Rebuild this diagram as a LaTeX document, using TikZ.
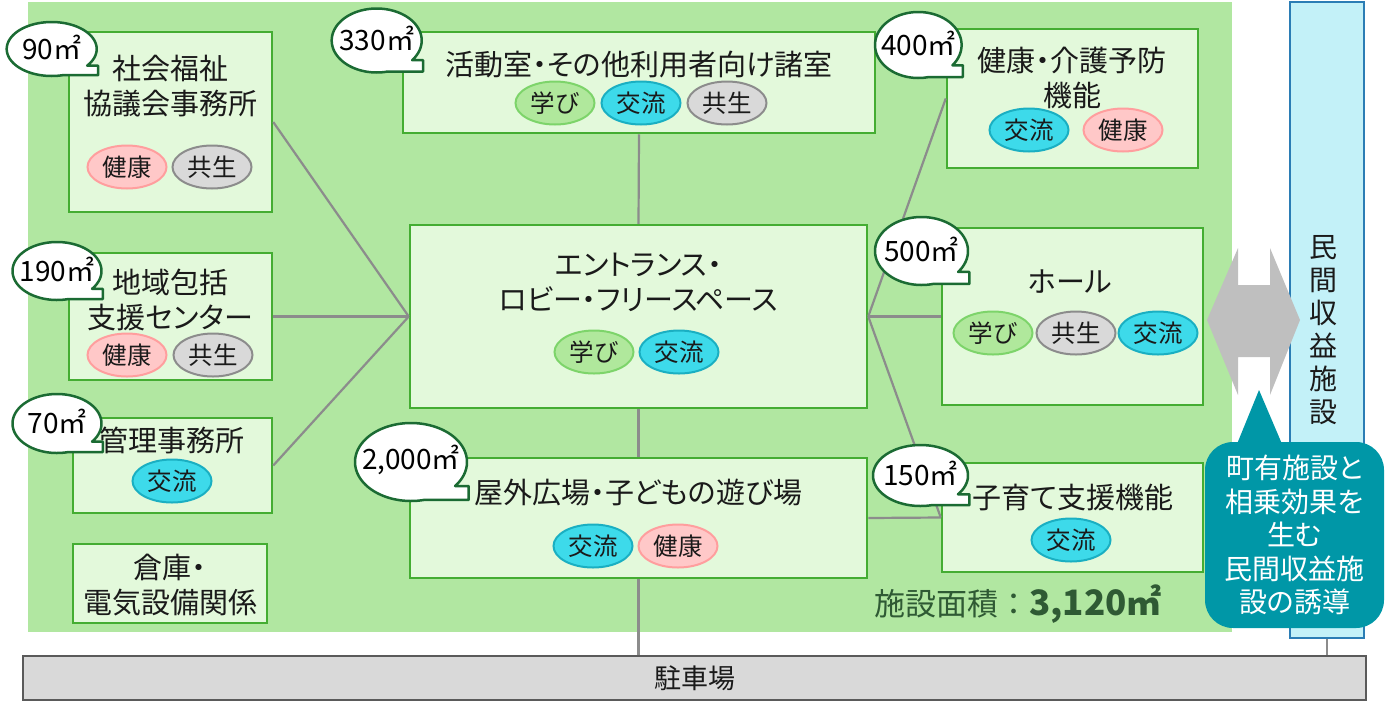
\documentclass[tikz,border=0pt]{standalone}
\usepackage{fontspec}
\setmainfont{Noto Sans CJK JP}[RawFeature=+palt]
\newfontfamily\plainjp{Noto Sans CJK JP}
\usetikzlibrary{shapes.geometric}
\definecolor{bggreen}{HTML}{B1E7A1}
\definecolor{boxfill}{HTML}{E3F9DB}
\definecolor{boxline}{HTML}{44AD32}
\definecolor{bubbleline}{HTML}{1B6B33}
\definecolor{conn}{HTML}{8C8C8C}
\definecolor{manabiF}{HTML}{B0E89C}
\definecolor{manabiD}{HTML}{7DD46A}
\definecolor{kouryuF}{HTML}{3DDAEA}
\definecolor{kouryuD}{HTML}{1AAFC2}
\definecolor{kyouseiF}{HTML}{D9D9D9}
\definecolor{kyouseiD}{HTML}{8C8C8C}
\definecolor{kenkouF}{HTML}{FFC8C8}
\definecolor{kenkouD}{HTML}{FF9E9E}
\definecolor{tealc}{HTML}{0097A7}
\definecolor{minkanF}{HTML}{C3F1F8}
\definecolor{minkanD}{HTML}{2B7DB5}
\definecolor{arrowgray}{HTML}{BFBFBF}
\definecolor{parkF}{HTML}{D9D9D9}
\definecolor{parkD}{HTML}{5A5A5A}
\definecolor{areatext}{HTML}{2F5A34}
\definecolor{ink}{HTML}{1A1A1A}
\newcommand\areabubble[6]{%
  \draw[bubble] plot[domain=76:398, samples=90, variable=\t] ({#2+#4*cos(\t)},{#3+#5*sin(\t)})
     -- ({#2+1.03*#4},{#3+#5*sin(38)}) -- ({#2+1.03*#4},{#3+#5*sin(76)}) -- cycle;
  \node[bubbletext] (#1) at (#2,{#3-2}) {#6};
}
\begin{document}
\begin{tikzpicture}[x=1pt,y=-1pt,
  facility/.style={rectangle, draw=boxline, fill=boxfill, line width=2.5pt, inner sep=0pt},
  title/.style={font=\fontsize{29}{35}\selectfont, align=center, text=ink, inner sep=0pt},
  tagpill/.style={ellipse, minimum width=79pt, minimum height=43pt, line width=2pt, inner sep=0pt, text=ink, font=\fontsize{24.5}{24.5}\selectfont},
  manabi/.style={tagpill, fill=manabiF, draw=manabiD},
  kouryu/.style={tagpill, fill=kouryuF, draw=kouryuD},
  kyousei/.style={tagpill, fill=kyouseiF, draw=kyouseiD},
  kenkou/.style={tagpill, fill=kenkouF, draw=kenkouD},
  bubble/.style={draw=bubbleline, fill=white, line width=2.5pt, line join=round},
  bubbletext/.style={inner sep=0pt, text=black, font=\fontsize{28}{28}\selectfont},
  link/.style={draw=conn, line width=2.2pt}
]
\useasboundingbox (0,0) rectangle (1386,702);
% background area
\fill[bggreen] (28,2) rectangle (1232,632);

% private facility box
\node[rectangle, draw=minkanD, fill=minkanF, line width=2pt, minimum width=74pt, minimum height=636pt, inner sep=0pt] (minkan) at (1327,320) {};
\node[inner sep=0pt, align=center, text=ink, font=\fontsize{28}{33}\selectfont] (minkantxt) at (1323,330) {民\\間\\収\\益\\施\\設};

% parking
\node[rectangle, draw=parkD, fill=parkF, line width=2.5pt, minimum width=1343pt, minimum height=44pt, inner sep=0pt, text=ink, font=\fontsize{27}{27}\selectfont] (park) at (694.5,678) {駐車場};

% facility boxes
\node[facility, minimum width=203pt, minimum height=180pt] (shakai) at (170.5,122) {};
\node[facility, minimum width=203pt, minimum height=127pt] (chiiki) at (170.5,316.5) {};
\node[facility, minimum width=199pt, minimum height=95pt] (kanri) at (172.5,465.5) {};
\node[facility, minimum width=194pt, minimum height=79pt] (souko) at (170,583.5) {};
\node[facility, minimum width=472pt, minimum height=101pt] (katsudo) at (639,82.5) {};
\node[facility, minimum width=251pt, minimum height=139pt] (kenko) at (1072.5,98.5) {};
\node[facility, minimum width=457pt, minimum height=183pt] (center) at (638.5,316.5) {};
\node[facility, minimum width=261pt, minimum height=177pt] (hall) at (1072.5,316.5) {};
\node[facility, minimum width=457pt, minimum height=120pt] (okugai) at (638.5,518) {};
\node[facility, minimum width=261pt, minimum height=109pt] (kosodate) at (1072.5,517.5) {};

% connectors
\path[link] (center.west) -- (shakai.east);
\path[link] (center.west) -- (chiiki.east);
\path[link] (center.west) -- (kanri.east);
\path[link] (center.north) -- (katsudo.south);
\path[link] (center.south) -- (okugai.north);
\path[link] (center.east) -- (kenko.west);
\path[link] (center.east) -- (hall.west);
\path[link] (center.east) -- (kosodate.west);
\path[link] (okugai.east) -- (kosodate.west);
\path[link] (okugai.south) -- (okugai.south |- park.north);
\path[link] (minkan.south) -- (minkan.south |- park.north);

% titles
\node[title] (t-shakai) at (170.5,86) {社会福祉\\協議会事務所};
\node[title] (t-chiiki) at (170.5,299.5) {地域包括\\支援センター};
\node[title] (t-kanri) at (172,440) {管理事務所};
\node[title] (t-souko) at (170,585) {倉庫・\\電気設備関係};
\node[title] (t-katsudo) at (639,65) {活動室・その他利用者向け諸室};
\node[title] (t-kenko) at (1072,77.5) {健康・介護予防\\機能};
\node[title] (t-center) at (638.5,282.5) {エントランス・\\ロビー・フリースペース};
\node[title] (t-hall) at (1070,282) {ホール};
\node[title] (t-okugai) at (638.5,492) {屋外広場・子どもの遊び場};
\node[title] (t-kosodate) at (1073,497) {子育て支援機能};

% tags
\node[kenkou] (g1) at (127,167) {健康};
\node[kyousei] (g2) at (212,167) {共生};
\node[manabi] (g3) at (555,103) {学び};
\node[kouryu] (g4) at (641,103) {交流};
\node[kyousei] (g5) at (727,103) {共生};
\node[kouryu] (g6) at (1029,130) {交流};
\node[kenkou] (g7) at (1123,130) {健康};
\node[kenkou] (g8) at (127,355) {健康};
\node[kyousei] (g9) at (213,355) {共生};
\node[kouryu] (g10) at (172,481) {交流};
\node[manabi] (g11) at (594,352) {学び};
\node[kouryu] (g12) at (679,352) {交流};
\node[manabi] (g13) at (993,333) {学び};
\node[kyousei] (g14) at (1076,333) {共生};
\node[kouryu] (g15) at (1158,333) {交流};
\node[kouryu] (g16) at (593,546) {交流};
\node[kenkou] (g17) at (678,546) {健康};
\node[kouryu] (g18) at (1071,540) {交流};

% area bubbles
\areabubble{b1}{51.7}{49}{45}{27}{90㎡}
\areabubble{b2}{376.7}{40.5}{45}{32}{330㎡}
\areabubble{b3}{918.3}{45}{43.3}{33}{400㎡}
\areabubble{b4}{57}{271}{44.5}{29}{190㎡}
\areabubble{b5}{57}{423.5}{44.5}{29.5}{70㎡}
\areabubble{b6}{411}{462}{56}{39}{2,000㎡}
\areabubble{b7}{921.5}{251}{46.5}{34}{500㎡}
\areabubble{b8}{920.5}{475.5}{47.5}{30.5}{150㎡}

% total area
\node[anchor=west, inner sep=0pt, text=areatext, font=\plainjp\fontsize{31}{31}\selectfont] (total) at (874,604) {施設面積：\fontsize{35}{35}\selectfont\textbf{3,120㎡}};

% double arrow
\fill[arrowgray] (1207,320) -- (1238,248) -- (1238,285) -- (1270,285) -- (1270,248) -- (1300,320)
  -- (1270,395) -- (1270,357) -- (1238,357) -- (1238,395) -- cycle;

% callout
\node[rectangle, rounded corners=28pt, fill=tealc, minimum width=179pt, minimum height=186pt, inner sep=0pt] (note) at (1294.5,535) {};
\coordinate (notetip) at (1259,390);
\fill[tealc] (1237,444) -- (notetip) -- (1282,444) -- cycle;
\node[inner sep=0pt, align=center, text=white, font=\fontsize{28}{33.5}\selectfont] (notetxt) at (note.center) {町有施設と\\相乗効果を\\生む\\民間収益施\\設の誘導};
\end{tikzpicture}
\end{document}
